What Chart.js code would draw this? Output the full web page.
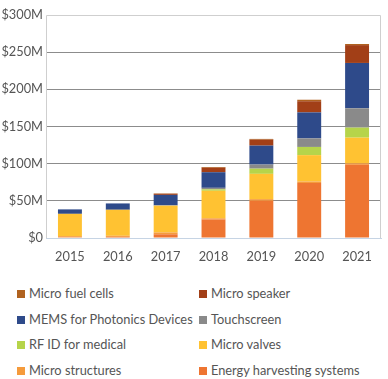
<!DOCTYPE html>
<html>
<head>
<meta charset="utf-8">
<script src="https://cdn.jsdelivr.net/npm/chart.js@4"></script>
<style>
  html, body { margin: 0; padding: 0; background: #fff; }
  #wrap { position: relative; width: 388px; height: 379px; }
  #cw { position: absolute; left: 0; top: 0; width: 388px; height: 275px; }
  #legend { position: absolute; left: 0; top: 280px; width: 388px; font-family: Lato, sans-serif; font-size: 12.8px; color: #555; }
  .li { position: absolute; height: 20px; line-height: 20px; white-space: nowrap; }
  .sw { display: inline-block; width: 8px; height: 8px; margin-right: 4px; vertical-align: 0px; }
</style>
</head>
<body>
<div id="wrap">
  <div id="cw"><canvas id="c"></canvas></div>
  <div id="legend"></div>
</div>
<script>
const categories = ["2015", "2016", "2017", "2018", "2019", "2020", "2021"];
const seriesNames = ["Energy harvesting systems", "Micro structures", "Micro valves", "RF ID for medical", "Touchscreen", "MEMS for Photonics Devices", "Micro speaker", "Micro fuel cells"];
const seriesColors = ["#EE7531", "#F59B3C", "#FFC232", "#B6D44A", "#8A8A8A", "#2E4A8A", "#A23F17", "#B0621F"];
const energyHarvesting = [1, 1.5, 5, 25, 50, 74, 98.5];
const microStructures = [1.5, 1.5, 2.5, 1.5, 2.3, 2, 2];
const microValves = [30, 35, 36, 37, 34, 35.5, 34.5];
const rfidMedical = [0, 0, 0, 2, 7, 11, 13.5];
const touchscreen = [0, 0, 0.5, 2, 5.5, 11.5, 26];
const memsPhotonics = [6, 8.5, 14, 21, 25.5, 35, 61];
const microSpeaker = [0, 0, 1.5, 6, 8, 15, 24];
const microFuelCells = [0, 0, 0.5, 1, 1, 2, 1.5];
const yTicks = [0, 50, 100, 150, 200, 250, 300];
const yTickLabels = ["$0", "$50M", "$100M", "$150M", "$200M", "$250M", "$300M"];

const seriesValues = [energyHarvesting, microStructures, microValves, rfidMedical, touchscreen, memsPhotonics, microSpeaker, microFuelCells];

const datasets = seriesNames.map((n, i) => ({
  label: n,
  data: seriesValues[i],
  backgroundColor: seriesColors[i],
  borderWidth: 0,
  categoryPercentage: 0.5,
  barPercentage: 1.0
}));

const borderPlugin = {
  id: 'box',
  beforeDatasetsDraw(chart) {
    const a = chart.chartArea, ctx = chart.ctx;
    ctx.save();
    ctx.strokeStyle = '#cfcfcf';
    ctx.lineWidth = 1;
    ctx.beginPath();
    ctx.moveTo(Math.round(a.left) + 0.5, Math.round(a.bottom));
    ctx.lineTo(Math.round(a.left) + 0.5, Math.round(a.top) + 0.5);
    ctx.lineTo(Math.round(a.right) - 0.5, Math.round(a.top) + 0.5);
    ctx.lineTo(Math.round(a.right) - 0.5, Math.round(a.bottom));
    ctx.stroke();
    ctx.restore();
  }
};

new Chart(document.getElementById('c'), {
  type: 'bar',
  data: { labels: categories, datasets },
  options: {
    responsive: true,
    maintainAspectRatio: false,
    animation: false,
    layout: { padding: { top: 15, right: 7, left: 0, bottom: 4 } },
    plugins: { legend: { display: false }, tooltip: { enabled: false } },
    scales: {
      x: {
        stacked: true,
        grid: { display: false, drawTicks: false },
        border: { display: true, color: '#c6d4e4', width: 1 },
        ticks: { color: '#555', font: { family: 'Lato', size: 12.8 }, padding: 11 },
        afterFit(s) { s.height = 33; }
      },
      y: {
        stacked: true,
        min: 0, max: 300,
        afterBuildTicks(s) { s.ticks = yTicks.map(v => ({ value: v })); },
        grid: {
          drawTicks: false,
          color: ctx => (ctx.tick && (ctx.tick.value === 0 || ctx.tick.value === 300)) ? 'rgba(0,0,0,0)' : '#8c8c8c',
          lineWidth: 1
        },
        border: { display: false },
        ticks: {
          color: '#555',
          font: { family: 'Lato', size: 12.8 },
          padding: 3,
          callback: (v) => yTickLabels[yTicks.indexOf(v)]
        },
        afterFit(s) { s.width = 46; }
      }
    }
  },
  plugins: [borderPlugin]
});

const leg = document.getElementById('legend');
const order = seriesNames.map((n, i) => i).reverse();
order.forEach((idx, k) => {
  const row = Math.floor(k / 2), col = k % 2;
  const d = document.createElement('div');
  d.className = 'li';
  d.style.left = (col === 0 ? 17 : 199) + 'px';
  d.style.top = (3 + row * 25.5) + 'px';
  d.innerHTML = '<span class="sw" style="background:' + seriesColors[idx] + '"></span>' + seriesNames[idx];
  leg.appendChild(d);
});
</script>
</body>
</html>
